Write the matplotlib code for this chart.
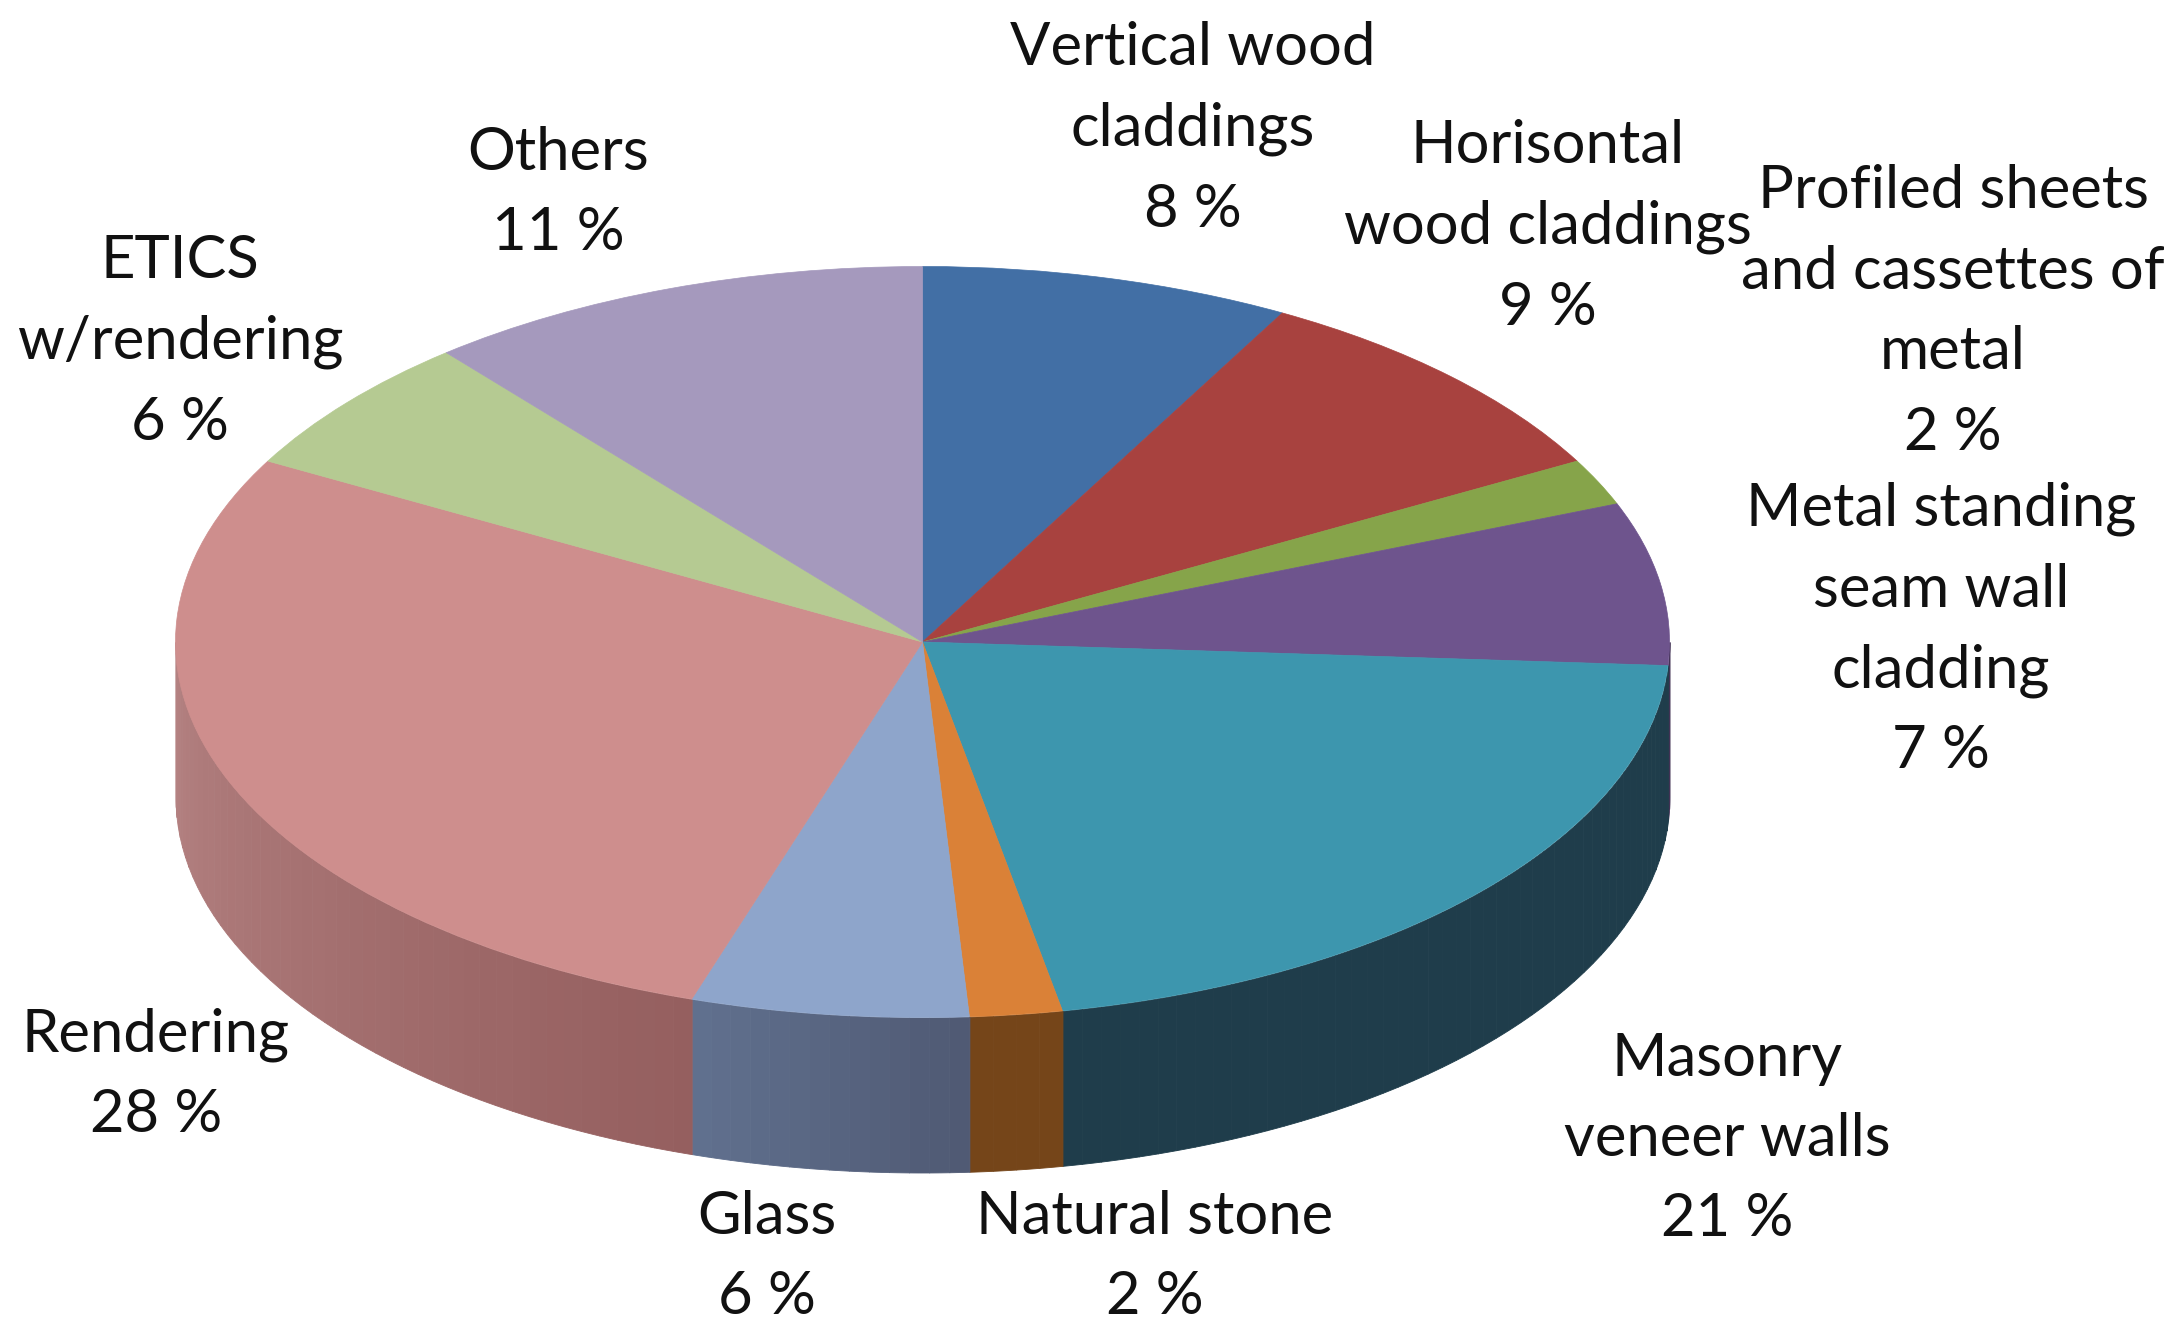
import numpy as np
import matplotlib.pyplot as plt
from matplotlib.colors import to_rgb

plt.rcParams['font.family'] = ['Lato', 'DejaVu Sans']

names = ['Vertical wood\ncladdings', 'Horisontal\nwood claddings',
         'Profiled sheets\nand cassettes of\nmetal', 'Metal standing\nseam wall\ncladding',
         'Masonry\nveneer walls', 'Natural stone', 'Glass', 'Rendering',
         'ETICS\nw/rendering', 'Others']
shares = [8, 9, 2, 7, 21, 2, 6, 28, 6, 11]

top_colors = ['#426fa5', '#a8423f', '#86a44a', '#6e548d', '#3d96ae',
              '#da8137', '#8ea5cb', '#ce8e8d', '#b5ca92', '#a599bd']
# wall colour at the start and the end of each slice, only the front ones show
wall_from = ['#2a4463', '#652826', '#50622c', '#423255', '#1f3d4b',
             '#754519', '#505a74', '#955f5f', '#6d7957', '#635c71']
wall_to = ['#2a4463', '#652826', '#50622c', '#423255', '#1f3d4b',
           '#754519', '#60708e', '#b48282', '#6d7957', '#635c71']

# layout in pixels of the full picture
W, H = 2182, 1340
cx, cy = 922.5, 642
rx, ry = 747, 375.5
depth = 155
label_xy = [(1193, 129), (1548, 227), (1953, 312), (1941, 630), (1727, 1139),
            (1155, 1257), (767, 1257), (156, 1075), (180, 342), (558, 193)]

fig = plt.figure(figsize=(W / 100, H / 100), dpi=100)
ax = fig.add_axes([0, 0, 1, 1])

# walls first, the top of the pie goes over them
edges = np.cumsum([0] + shares) / sum(shares) * 360
wall_h = depth / ry
for i in range(len(shares)):
    start = max(edges[i], 90)
    end = min(edges[i + 1], 270)
    if end <= start:
        continue
    steps = max(int((end - start) / 1.5), 1)
    theta = np.linspace(start, end, steps + 1)
    c0, c1 = np.array(to_rgb(wall_from[i])), np.array(to_rgb(wall_to[i]))
    for k in range(steps):
        a = np.radians(np.linspace(theta[k], theta[k + 1], 6))
        col = c0 + (c1 - c0) * k / max(steps - 1, 1)
        ax.fill_between(np.sin(a), np.cos(a), np.cos(a) - wall_h,
                        color=col, linewidth=0.6, zorder=1)

wedges, _ = ax.pie(shares, colors=top_colors, startangle=90, counterclock=False, radius=1)
for wedge in wedges:
    wedge.set_edgecolor(wedge.get_facecolor())
    wedge.set_linewidth(0.5)
    wedge.set_zorder(2)

ax.set_aspect('auto')
ax.set_xlim(-cx / rx, (W - cx) / rx)
ax.set_ylim(-(H - cy) / ry, cy / ry)
ax.axis('off')

for name, share, (x, y) in zip(names, shares, label_xy):
    fig.text(x / W, 1 - y / H, f'{name}\n{share} %', ha='center', va='center',
             multialignment='center', fontsize=43, linespacing=1.6, color='#111111')

fig.savefig('out.png', dpi=100)
